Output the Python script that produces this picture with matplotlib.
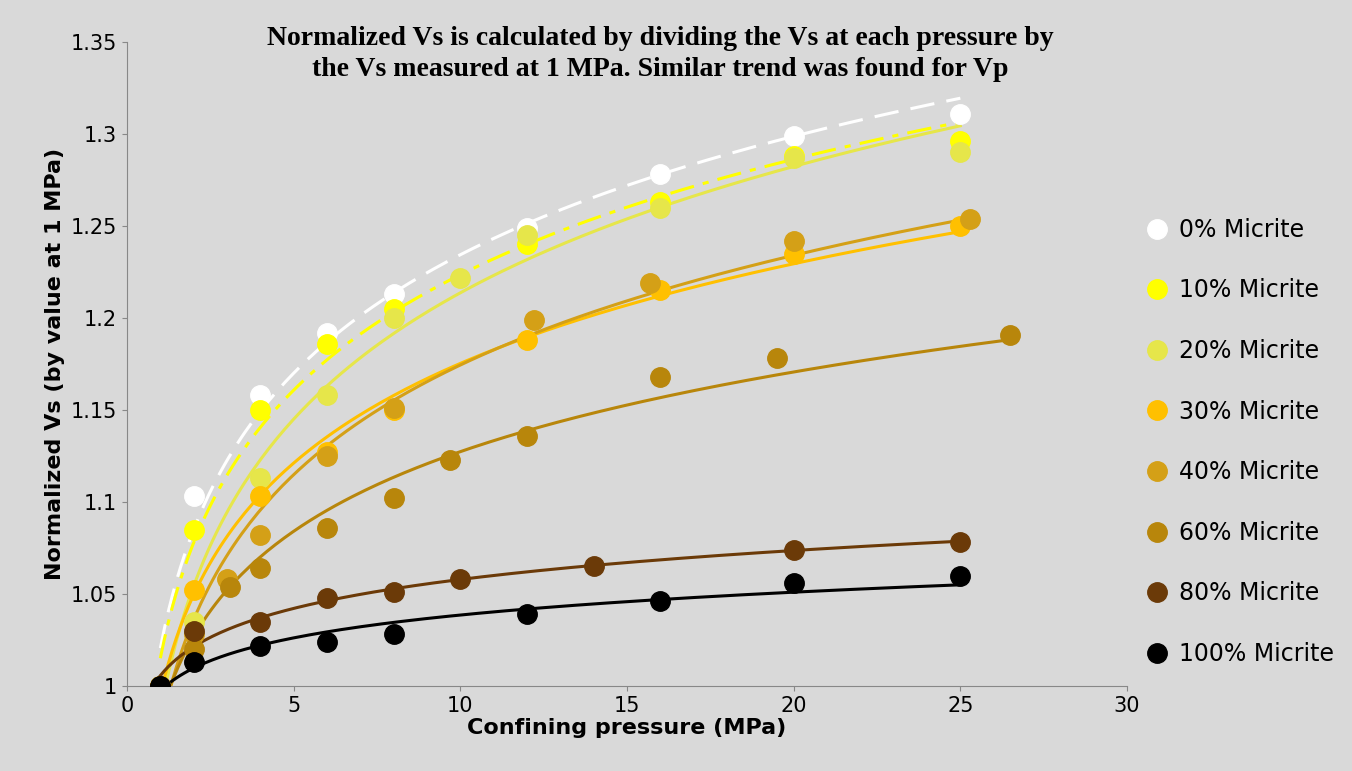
import matplotlib.pyplot as plt
import numpy as np

labels = ["0% Micrite", "10% Micrite", "20% Micrite", "30% Micrite",
          "40% Micrite", "60% Micrite", "80% Micrite", "100% Micrite"]
colors = ["#ffffff", "#ffff00", "#e6e64a", "#ffc000",
          "#d4a017", "#b8860b", "#6b3a08", "#000000"]
styles = [(0, (8, 4)), (0, (8, 3, 2, 3)), "-", "-", "-", "-", "-", "-"]

p_x = [
    [1, 2, 4, 6, 8, 12, 16, 20, 25],
    [1, 2, 4, 6, 8, 12, 16, 20, 25],
    [1, 2, 4, 6, 8, 10, 12, 16, 20, 25],
    [1, 2, 4, 6, 8, 12, 16, 20, 25],
    [1, 2, 3, 4, 6, 8, 12.2, 15.7, 20, 25.3],
    [1, 2, 3.1, 4, 6, 8, 9.7, 12, 16, 19.5, 26.5],
    [1, 2, 4, 6, 8, 10, 14, 20, 25],
    [1, 2, 4, 6, 8, 12, 16, 20, 25],
]
vs = [
    [1, 1.103, 1.158, 1.192, 1.213, 1.249, 1.278, 1.299, 1.311],
    [1, 1.085, 1.150, 1.186, 1.205, 1.240, 1.263, 1.288, 1.296],
    [1, 1.035, 1.113, 1.158, 1.200, 1.222, 1.245, 1.260, 1.287, 1.290],
    [1, 1.052, 1.103, 1.127, 1.150, 1.188, 1.215, 1.235, 1.250],
    [1, 1.028, 1.058, 1.082, 1.125, 1.151, 1.199, 1.219, 1.242, 1.254],
    [1, 1.020, 1.054, 1.064, 1.086, 1.102, 1.123, 1.136, 1.168, 1.178, 1.191],
    [1, 1.030, 1.035, 1.048, 1.051, 1.058, 1.065, 1.074, 1.078],
    [1, 1.013, 1.022, 1.024, 1.028, 1.039, 1.046, 1.056, 1.060],
]

bg = "#d9d9d9"
fig = plt.figure(figsize=(13.52, 7.71), dpi=100, facecolor=bg)
ax = fig.add_axes([127/1352, 1-686/771, 1000/1352, 644/771], facecolor=bg)

for lab, c, ls, x, y in zip(labels, colors, styles, p_x, vs):
    x = np.array(x); y = np.array(y)
    b, a = np.polyfit(np.log(x), y, 1)
    xf = np.linspace(1, x.max(), 200)
    ax.plot(xf, a + b*np.log(xf), color=c, lw=2.2, ls=ls)
    ax.plot(x, y, "o", color=c, ms=14, label=lab, zorder=3)

ax.set_xlim(0, 30)
ax.set_ylim(1, 1.35)
ax.set_xticks(range(0, 31, 5))
ax.set_yticks(np.arange(1, 1.351, 0.05))
ax.set_yticklabels(["1", "1.05", "1.1", "1.15", "1.2", "1.25", "1.3", "1.35"])
ax.tick_params(labelsize=15, direction="out", color="#888888")
for s in ["top", "right"]:
    ax.spines[s].set_visible(False)
for s in ["left", "bottom"]:
    ax.spines[s].set_color("#888888")
ax.set_xlabel("Confining pressure (MPa)", fontsize=16, fontweight="bold", labelpad=2)
ax.set_ylabel("Normalized Vs (by value at 1 MPa)", fontsize=16, fontweight="bold")
ax.set_title("Normalized Vs is calculated by dividing the Vs at each pressure by\n"
             "the Vs measured at 1 MPa. Similar trend was found for Vp",
             fontsize=20, fontweight="bold", family="Liberation Serif",
             x=0.533, y=0.935, linespacing=1.3)
ax.legend(loc="upper left", bbox_to_anchor=(0.995, 0.76), frameon=False, fontsize=17,
          labelspacing=1.55, handletextpad=0.3, markerscale=1.0, handlelength=1.2)

fig.savefig("out.png", dpi=100, facecolor=bg)
